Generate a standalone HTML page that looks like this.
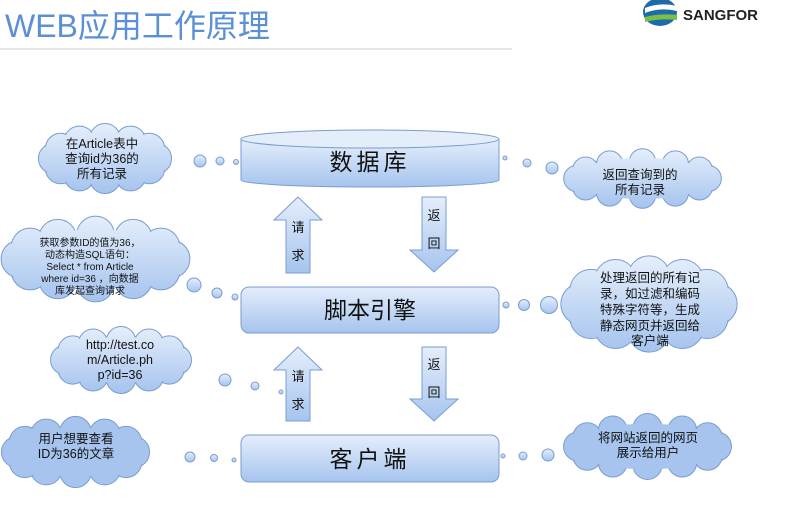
<!DOCTYPE html>
<html><head><meta charset="utf-8"><style>
body{margin:0;width:787px;height:530px;background:#fff;overflow:hidden;font-family:"Liberation Sans","Noto Sans CJK SC",sans-serif}
svg{position:absolute;left:0;top:0}
</style></head><body>
<svg width="787" height="530" viewBox="0 0 787 530" xmlns="http://www.w3.org/2000/svg">
<defs>
<linearGradient id="g" x1="0" y1="0" x2="0" y2="1"><stop offset="0" stop-color="#e4eefb"/><stop offset="1" stop-color="#a6c4ee"/></linearGradient>
</defs>
<text x="5" y="37" font-size="32" fill="#5b8fd6" font-family="'Liberation Sans','Noto Sans CJK SC',sans-serif">WEB应用工作原理</text>
<line x1="0" y1="49" x2="512" y2="49" stroke="#ddd" stroke-width="1.5"/>
<g>
<ellipse cx="660" cy="12" rx="17" ry="14" fill="#1f6aa8"/>
<path d="M645 8 Q660 2 677 6 L677 11 Q660 7 645 13Z" fill="#fff"/>
<path d="M645 17 Q660 13 677 15 L677 20 Q660 18 645 22Z" fill="#7bc043"/>
<text x="683" y="20" font-size="15" font-weight="bold" fill="#222">SANGFOR</text>
</g>
<g id="clouds" fill="url(#g)" stroke="#7a9cd0" stroke-width="1"></g>
<g fill="url(#g)" stroke="#7a9cd0" stroke-width="1">
<circle cx="200" cy="161" r="6"/><circle cx="220" cy="161" r="4"/><circle cx="236" cy="162" r="2.5"/>
<circle cx="505" cy="158" r="2"/><circle cx="527" cy="163" r="4"/><circle cx="552" cy="168" r="6"/>
<circle cx="194" cy="285" r="7"/><circle cx="217" cy="293" r="5"/><circle cx="235" cy="297" r="3"/>
<circle cx="506" cy="305" r="3"/><circle cx="524" cy="305" r="5.5"/><circle cx="549" cy="305" r="8.5"/>
<circle cx="225" cy="380" r="6"/><circle cx="255" cy="386" r="4"/><circle cx="281" cy="392" r="2"/>
<circle cx="190" cy="457" r="5"/><circle cx="214" cy="458" r="3.5"/><circle cx="234" cy="460" r="2"/>
<circle cx="503" cy="456" r="2"/><circle cx="523" cy="456" r="4"/><circle cx="548" cy="455" r="6"/>
</g>
<path d="M241 139 L241 180 A129 7 0 0 0 499 180 L499 139 Z" fill="url(#g)" stroke="#7a9cd0"/>
<ellipse cx="370" cy="139" rx="129" ry="9" fill="#e4eefb" stroke="#7a9cd0"/>
<text x="370" y="170" font-size="23" text-anchor="middle" fill="#111" letter-spacing="4">数据库</text>
<rect x="241" y="287" width="258" height="46" rx="8" fill="url(#g)" stroke="#7a9cd0"/>
<text x="370" y="318" font-size="23" text-anchor="middle" fill="#111">脚本引擎</text>
<rect x="241" y="435" width="258" height="47" rx="8" fill="url(#g)" stroke="#7a9cd0"/>
<text x="370" y="467" font-size="23" text-anchor="middle" fill="#111" letter-spacing="4">客户端</text>
<g fill="url(#g)" stroke="#7a9cd0">
<path d="M298 197 L322 220 L310 220 L310 273 L286 273 L286 220 L274 220 Z"/>
<path d="M422 197 L446 197 L446 250 L458 250 L434 272 L410 250 L422 250 Z"/>
<path d="M298 347 L322 370 L310 370 L310 421 L286 421 L286 370 L274 370 Z"/>
<path d="M422 347 L446 347 L446 399 L458 399 L434 421 L410 399 L422 399 Z"/>
</g>
<g font-size="13" fill="#111" text-anchor="middle">
<text x="298" y="232">请</text><text x="298" y="260">求</text>
<text x="434" y="220">返</text><text x="434" y="248">回</text>
<text x="298" y="381">请</text><text x="298" y="409">求</text>
<text x="434" y="369">返</text><text x="434" y="397">回</text>
</g>
<g font-size="12.5" fill="#111" text-anchor="middle">
<text x="102" y="148">在Article表中</text><text x="102" y="163">查询id为36的</text><text x="102" y="178">所有记录</text>
<g font-size="10"><text x="90" y="246">获取参数ID的值为36，</text><text x="90" y="258">动态构造SQL语句：</text><text x="90" y="270">Select * from Article</text><text x="90" y="282">where id=36 ，向数据</text><text x="90" y="294">库发起查询请求</text></g>
<text x="120" y="349">http://test.co</text><text x="120" y="364">m/Article.ph</text><text x="120" y="379">p?id=36</text>
<text x="76" y="443">用户想要查看</text><text x="76" y="458">ID为36的文章</text>
<text x="640" y="179">返回查询到的</text><text x="640" y="194">所有记录</text>
<text x="650" y="282">处理返回的所有记</text><text x="650" y="298">录，如过滤和编码</text><text x="650" y="314">特殊字符等，生成</text><text x="650" y="330">静态网页并返回给</text><text x="650" y="345">客户端</text>
<text x="648" y="442">将网站返回的网页</text><text x="648" y="457">展示给用户</text>
</g>
</svg>
<script>
var cl=[[40,125,130,67],[3,218,185,82],[52,328,138,64],[3,418,145,68],[565,150,155,57],[563,258,172,92],[565,415,165,63]];
var g=document.getElementById('clouds'),out='',inn='';
cl.forEach(function(c){var x=c[0],y=c[1],w=c[2],h=c[3],cx=x+w/2,cy=y+h/2,n=12,rx=w/2,ry=h/2;
var r=Math.min(w,h)*0.23;var pts=[];
for(var i=0;i<n;i++){var a=i/n*2*Math.PI;pts.push([cx+(rx-r*0.9)*Math.cos(a),cy+(ry-r*0.9)*Math.sin(a)]);}
pts.forEach(function(p){out+='<circle cx="'+p[0]+'" cy="'+p[1]+'" r="'+r+'"/>';inn+='<circle cx="'+p[0]+'" cy="'+p[1]+'" r="'+(r-1)+'"/>';});
inn+='<ellipse cx="'+cx+'" cy="'+cy+'" rx="'+(rx-r*0.6)+'" ry="'+(ry-r*0.6)+'"/>';
var grad='<linearGradient id="cg'+x+'" gradientUnits="userSpaceOnUse" x1="0" y1="'+y+'" x2="0" y2="'+(y+h)+'"><stop offset="0" stop-color="#e4eefb"/><stop offset="1" stop-color="#a6c4ee"/></linearGradient>';
g.insertAdjacentHTML('beforeend','<defs>'+grad+'</defs><g fill="url(#cg'+x+')">'+out+'<g stroke="none">'+inn+'</g></g>');out='';inn='';});
</script>
</body></html>
